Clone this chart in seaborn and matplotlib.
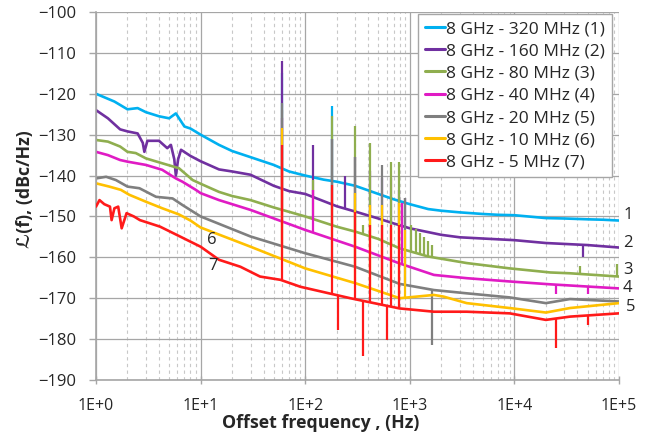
import numpy as np
import matplotlib
matplotlib.use("Agg")
import matplotlib.pyplot as plt
import matplotlib.ticker as mticker
import seaborn as sns

# phase noise curves (offset in Hz, level in dBc/Hz)
F1 = [1, 1.5, 2, 2.5, 3, 4, 5, 5.8, 7, 8, 10, 15, 20, 30, 50, 70, 100, 150, 200, 300,
      500, 700, 1000, 1500, 2000, 3000, 5000, 7000, 1e4, 2e4, 3e4, 5e4, 7e4, 1e5]
L1 = [-120, -121.9, -123.8, -123.5, -124.5, -125.5, -126, -124.8, -128, -128.5,
      -130, -132.5, -134, -135.5, -137.4, -139, -140, -141, -141.5, -142.5,
      -144.5, -145.8, -147, -148.2, -148.6, -149, -149.4, -149.6, -149.7, -150.4,
      -150.5, -150.7, -150.8, -151]

F2 = [1, 1.3, 1.7, 2, 2.5, 2.8, 2.9, 3.1, 4, 4.8, 5.2, 5.6, 5.8, 6.1, 6.5, 8, 10, 15, 20, 30,
      50, 70, 100, 200, 300, 500, 700, 1000, 2000, 3000, 5000, 1e4, 2e4, 5e4, 1e5]
L2 = [-124, -126, -128.7, -129.2, -129.7, -132, -134.2, -131.5, -131.5, -133.3,
      -132.5, -136, -140, -136, -133.7, -135.2, -136.5, -138.5, -139, -139.8,
      -142.5, -143.8, -144.5, -147.5, -148.8, -150.5, -151.7, -152.9, -154.5, -155.1,
      -155.4, -155.8, -156.5, -157, -157.6]

F3 = [1, 1.3, 1.7, 2, 2.4, 3, 4.3, 6.2, 8.4, 10, 15, 20, 30, 50, 100, 200, 300, 500, 800, 1500,
      3500, 9000, 2.2e4, 3.4e4, 1e5]
L3 = [-131.3, -131.7, -132.9, -134.2, -134.5, -135.8, -137, -138.2, -141.1, -142,
      -144, -145, -146, -147.8, -150, -152.5, -153.7, -155.5, -157.8, -159.8,
      -161.4, -162.7, -163.7, -163.9, -164.7]

F4 = [1, 1.3, 1.7, 2, 3, 4.3, 5.8, 6.7, 9, 10, 15, 30, 100, 300, 800, 1700, 3500, 9000, 2.2e4, 1e5]
L4 = [-134.2, -135, -136.2, -136.6, -137.4, -138.6, -140.7, -141.5, -143.5, -144.3,
      -146, -148.4, -153.3, -157.4, -161.5, -164.3, -165.1, -165.9, -166.6, -167.6]

F5 = [1, 1.25, 1.55, 2, 2.6, 3.75, 5.4, 6.7, 10, 30, 100, 300, 800, 1700, 3500, 9000, 2e4, 3.4e4, 1e5]
L5 = [-140.7, -140.3, -141.1, -142.7, -143.1, -145.2, -145.6, -147.2, -150, -154.9,
      -159, -162.3, -166.5, -168, -168.8, -169.8, -171.2, -170.2, -170.8]

F6 = [1, 1.34, 1.73, 2.08, 3, 4.3, 6.2, 8, 10, 30, 100, 300, 800, 1700, 2100, 3500, 9000, 2e4, 3.4e4, 1e5]
L6 = [-141.9, -142.7, -143.5, -144.7, -146.4, -148, -149.5, -151, -152.7, -157.4,
      -162.7, -166.3, -170, -169.2, -169.6, -171.2, -172.4, -173.5, -172.4, -171.2]

F7 = [1, 1.08, 1.2, 1.36, 1.41, 1.5, 1.63, 1.76, 1.96, 2.3, 2.63, 4.1, 6.35, 10, 15, 24, 37, 58, 90, 270,
      800, 1700, 3500, 9000, 2e4, 3.4e4, 1e5]
L7 = [-147.6, -146, -147, -147.6, -150.9, -148, -147.6, -152.9, -149.2, -150,
      -150.9, -152.5, -154.9, -157.4, -160.6, -162.3, -164.7, -165.5, -167.2, -170,
      -172.5, -173.3, -173.3, -173.7, -175.3, -174.5, -173.7]

# spurs (frequency, level at the tip of the spur)
SP1_F = [60, 180]
SP1_V = [-115, -123]
SP2_F = [60, 120, 180, 240, 300, 420, 540, 660, 780, 900, 45600]
SP2_V = [-112, -132.5, -131, -140, -135.4, -139, -140.5, -140.5, -143.5, -145.5, -160]
SP3_F = [60, 120, 180, 300, 360, 420, 660, 780, 1020, 1140, 1260, 1380, 1500, 1620, 42500, 95000]
SP3_V = [-124, -141, -125.4, -128, -152, -132.1, -136.8, -136.8, -152, -153, -154, -155, -156, -157,
         -162, -161.6]
SP4_F = [60, 120, 840, 25000, 50000]
SP4_V = [-126, -143.5, -146.7, -169, -169]
SP5_F = [60, 180, 300, 540, 900, 1640]
SP5_V = [-122.3, -131, -135.4, -137.4, -145.5, -181.4]
SP6_F = [60, 300, 420, 540, 660, 780, 900]
SP6_V = [-128.4, -144.3, -147.2, -147.2, -152.8, -146.7, -153.3]
SP7_F = [60, 180, 204, 300, 355, 420, 540, 610, 660, 780, 25000, 50000]
SP7_V = [-132.5, -142.3, -177.7, -148.8, -184.1, -152, -152, -180.2, -152, -152, -182.2, -176.5]

LABELS = ["8 GHz - 320 MHz (1)", "8 GHz - 160 MHz (2)", "8 GHz - 80 MHz (3)",
          "8 GHz - 40 MHz (4)", "8 GHz - 20 MHz (5)", "8 GHz - 10 MHz (6)",
          "8 GHz - 5 MHz (7)"]
COLORS = ["#00B0F0", "#7030A0", "#8FAE4F", "#E01BC4", "#7F7F7F", "#FFC000", "#FF1A1A"]
X_TICKS = [1, 10, 100, 1e3, 1e4, 1e5]
X_TICKLABELS = ["1E+0", "1E+1", "1E+2", "1E+3", "1E+4", "1E+5"]
Y_TICKS = list(range(-190, -99, 10))

series = [(F1, L1, SP1_F, SP1_V), (F2, L2, SP2_F, SP2_V), (F3, L3, SP3_F, SP3_V),
          (F4, L4, SP4_F, SP4_V), (F5, L5, SP5_F, SP5_V), (F6, L6, SP6_F, SP6_V),
          (F7, L7, SP7_F, SP7_V)]

sns.set_style("white")
plt.rcParams["font.family"] = ["Open Sans", "DejaVu Sans"]

fig = plt.figure(figsize=(6.54, 4.38), dpi=100)
ax = fig.add_axes([96 / 654, 1 - 380 / 438, 523 / 654, 368 / 438])

for i, (f, lv, spf, spv) in enumerate(series):
    z = 2 + i * 0.1
    sns.lineplot(x=f, y=lv, color=COLORS[i], lw=1.9, label=LABELS[i], ax=ax, zorder=z)
    # spur bottoms sit on the curve
    base = np.interp(np.log10(spf), np.log10(f), lv)
    ax.vlines(spf, np.minimum(base, spv), np.maximum(base, spv), color=COLORS[i], lw=1.6, zorder=z)

ax.set_xscale("log")
ax.set_xlim(1, 1e5)
ax.set_ylim(-190, -100)
ax.xaxis.set_major_locator(mticker.FixedLocator(X_TICKS))
ax.xaxis.set_major_formatter(mticker.FixedFormatter(X_TICKLABELS))
ax.xaxis.set_minor_locator(mticker.LogLocator(base=10, subs=np.arange(2, 10)))
ax.xaxis.set_minor_formatter(mticker.NullFormatter())
ax.set_yticks(Y_TICKS)

ax.grid(True, which="major", color="#A6A6A6", lw=0.9)
ax.grid(True, which="minor", axis="x", color="#C8C8C8", lw=0.8, ls=(0, (3, 3)))
ax.set_axisbelow(True)

for side in ["top", "right"]:
    ax.spines[side].set_visible(False)
for side in ["left", "bottom"]:
    ax.spines[side].set_color("#A6A6A6")
    ax.spines[side].set_linewidth(1.2)

ax.tick_params(axis="y", which="major", direction="out", length=5, width=1, color="#A6A6A6",
               pad=9, labelsize=12, left=True)
ax.tick_params(axis="x", which="major", direction="inout", length=6, width=1, color="#A6A6A6",
               pad=10, labelsize=11.5, bottom=True)
ax.tick_params(axis="x", which="minor", length=0)

ax.set_xlabel("Offset frequency , (Hz)", fontsize=12.8, fontweight="bold")
ax.xaxis.set_label_coords(0.43, -0.093)
ax.set_ylabel("\u2112(f), (dBc/Hz)", fontsize=12.8, fontweight="bold",
              family=["Open Sans", "DejaVu Sans"])
ax.yaxis.set_label_coords(-0.118, 0.52)

# curve numbers
for txt, xa, y in [("1", 1.017, -149.6), ("2", 1.017, -156.5), ("3", 1.017, -163.1),
                   ("4", 1.017, -167.5), ("5", 1.022, -172.1)]:
    ax.text(xa, y, txt, transform=ax.get_yaxis_transform(), fontsize=12,
            ha="center", va="center", clip_on=False)
ax.text(12.9, -155.7, "6", fontsize=12, ha="center", va="center", zorder=5)
ax.text(13.1, -162.1, "7", fontsize=12, ha="center", va="center", zorder=5)

leg = ax.legend(loc="upper right", bbox_to_anchor=(0.9866, 0.9946), borderaxespad=0,
                frameon=True, fancybox=False, edgecolor="#A6A6A6", framealpha=1,
                fontsize=12.5, handlelength=1.15, handletextpad=0.05, labelspacing=0.35,
                borderpad=0.4)
leg.get_frame().set_linewidth(1.0)
for line in leg.get_lines():
    line.set_linewidth(2.2)
leg.set_zorder(10)

fig.savefig("out.png", dpi=100)
